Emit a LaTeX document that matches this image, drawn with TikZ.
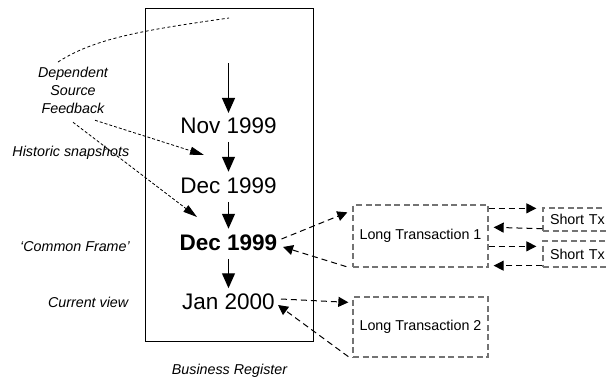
\documentclass[tikz,border=0pt]{standalone}
\usepackage{fontspec}
\setmainfont{Liberation Sans}
\usetikzlibrary{arrows.meta}

\begin{document}
\begin{tikzpicture}[x=1pt,y=-1pt,
  lbl/.style={font=\fontsize{14.3}{18}\selectfont\itshape, inner sep=0pt},
  datelbl/.style={font=\fontsize{22.5}{27}\selectfont, inner sep=0pt,
    text height=16.1pt, text depth=0pt},
  regbox/.style={draw=black, line width=0.9pt, minimum width=168pt,
    minimum height=333pt, inner sep=0pt},
  txbox/.style={draw=black!55, line width=1.3pt, dash pattern=on 6pt off 3.5pt,
    font=\fontsize{14.3}{18}\selectfont, inner sep=0pt},
  shortbox/.style={txbox, text width=61pt, inner xsep=7pt, align=left,
    minimum width=75pt},
  flow/.style={line width=1.2pt, -{Triangle[width=13pt,length=15pt]},
    shorten <=8.5pt, shorten >=5pt},
  txarrow/.style={line width=1pt, dash pattern=on 6pt off 4pt,
    -{Triangle[width=10pt,length=10pt]}},
  fbarrow/.style={line width=0.8pt, dash pattern=on 3pt off 2pt,
    -{Triangle[width=8pt,length=14pt]}},
  fbline/.style={line width=0.8pt, dash pattern=on 3pt off 2.5pt}
]
\clip (0,0) rectangle (606,378);

% register frame and its caption
\node[regbox] (reg) at (229,174.5) {};
\node[lbl, anchor=base] (br) at (229.5,374) {Business Register};

% versions of the register
\coordinate (top) at (228.5,63);
\node[datelbl] (nov) at (228.5,125.2) {Nov 1999};
\node[datelbl] (dec) at (228.5,185) {Dec 1999};
\node[datelbl, font=\fontsize{22.5}{27}\selectfont\bfseries] (decb) at (228.5,242) {Dec 1999};
\node[datelbl] (jan) at (228.5,301.5) {Jan 2000};

\draw[flow, shorten <=0pt, shorten >=4pt] (top) -- (nov);
\draw[flow] (nov) -- (dec);
\draw[flow] (dec) -- (decb);
\draw[flow] (decb) -- (jan);

% side labels
\node[lbl, align=center] (fb) at (73,90.3) {Dependent\\Source\\Feedback};
\node[lbl, anchor=base east] (hist) at (129.5,156) {Historic snapshots};
\node[lbl, anchor=base east] (cf) at (130,251) {‘Common Frame’};
\node[lbl, anchor=base east] (cv) at (128.5,307) {Current view};

% feedback from dependent sources
\coordinate (fbtop) at (58,62);
\coordinate (regin) at (229,18);
\coordinate (snap1) at (204,155);
\coordinate (snap2) at (197,217);
\draw[fbline] (fbtop) .. controls (95,38) and (145,30) .. (regin);
\draw[fbarrow] ([shift={(22,6.5)}]fb.south) -- (snap1);
\draw[fbarrow] ([shift={(0,8.5)}]fb.south) -- (snap2);

% long transactions
\node[txbox, minimum width=135pt, minimum height=62pt] (lt1) at (420.5,236) {Long Transaction 1};
\node[txbox, minimum width=135pt, minimum height=60pt] (lt2) at (420.5,327) {Long Transaction 2};

% short transactions
\node[shortbox, minimum height=23pt] (st1) at (580.5,219.5) {Short Tx};
\node[shortbox, minimum height=26pt] (st2) at (580.5,254) {Short Tx};

% check-out and check-in of the common frame
\draw[txarrow] ([shift={(4,-3)}]decb.east) -- ([shift={(-5,8)}]lt1.north west);
\draw[txarrow] ([shift={(-6,-1)}]lt1.south west) -- ([shift={(5.5,5)}]decb.east);
\draw[txarrow] ([shift={(6,-2.5)}]jan.east) -- ([shift={(-4,6)}]lt2.north west);
\draw[txarrow] ([shift={(-4,-1)}]lt2.south west) -- ([shift={(3,3.5)}]jan.east);

% short transactions inside long transaction 1
\draw[txarrow] ([shift={(0,4)}]lt1.north east) -- ([shift={(-6,1)}]st1.north west);
\draw[txarrow] ([shift={(0,-3)}]st1.south west) -- ([shift={(5,23)}]lt1.north east);
\draw[txarrow] ([shift={(0,6)}]lt1.north east |- st2.north) -- ([shift={(-6,6)}]st2.north west);
\draw[txarrow] ([shift={(0,-2)}]st2.south west) -- ([shift={(5,-2)}]lt1.south east);
\end{tikzpicture}
\end{document}
